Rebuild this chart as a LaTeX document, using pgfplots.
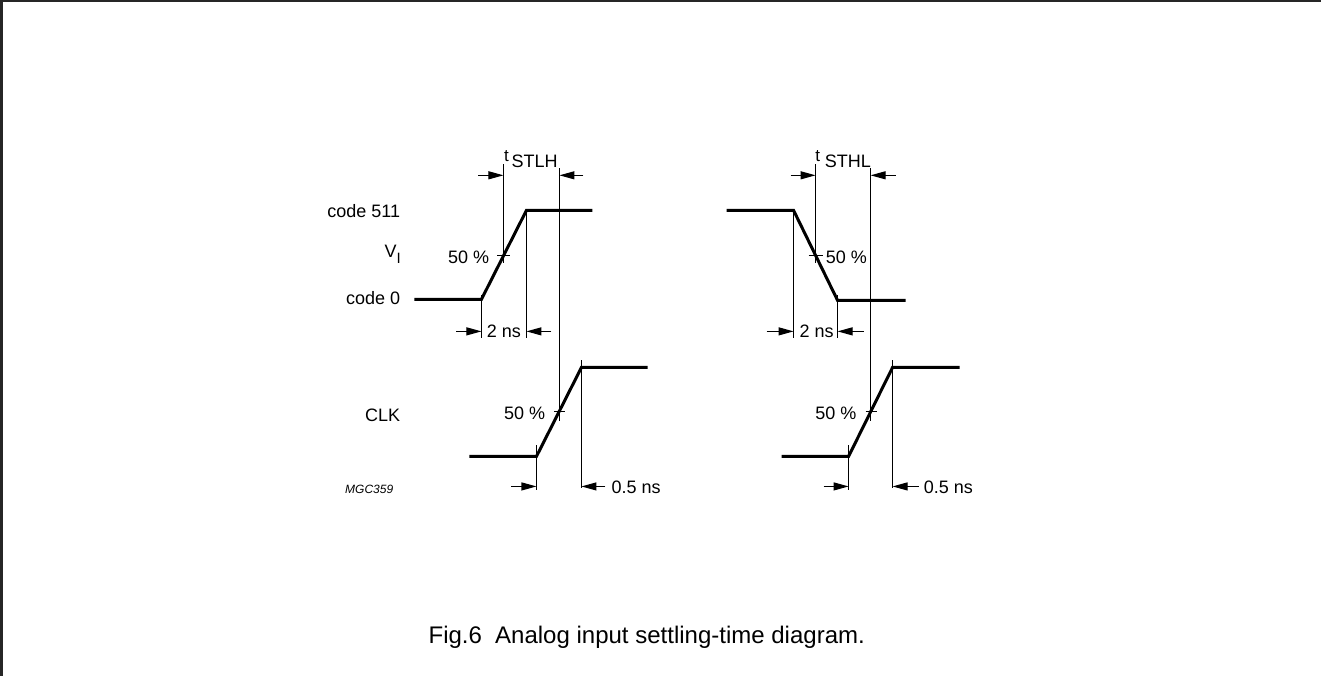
\documentclass[border=0pt]{standalone}
\usepackage{pgfplots}
\pgfplotsset{compat=1.18}
\usepackage{fontspec}
\setmainfont{Liberation Sans}
\usetikzlibrary{arrows.meta}
\tikzset{
 wave/.style={black, line width=3pt, line join=miter},
 thin/.style={black, line width=1.1pt},
 arr/.style={black, line width=1.1pt, -{Triangle[length=15pt,width=8pt]}},
 lab/.style={font=\fontsize{18}{21}\selectfont, inner sep=0pt},
 sml/.style={font=\fontsize{15}{17}\selectfont, inner sep=0pt},
 tsm/.style={font=\fontsize{17}{19}\selectfont, inner sep=0pt},
}
\begin{document}
\begin{tikzpicture}
\begin{axis}[
 scale only axis, width=1322pt, height=677pt,
 xmin=0,xmax=1322,ymin=0,ymax=677, y dir=reverse,
 hide axis, clip=false,
]
% frame
\addplot[color=black!85, line width=2.5pt] coordinates {(3,677)(3,3)(1322,3)};
% left VI
\addplot[wave] coordinates {(416,301)(483,301)(528,212)(594,212)};
% left CLK
\addplot[wave] coordinates {(471,458)(538,458)(583,369)(649,369)};
% right VI
\addplot[wave] coordinates {(728,212)(795,212)(839,302)(907,302)};
% right CLK
\addplot[wave] coordinates {(783,458)(850,458)(894,369)(961,369)};
% thin lines left
\addplot[thin] coordinates {(505,166)(505,265)};
\addplot[thin] coordinates {(499,257)(512,257)};
\addplot[thin] coordinates {(561,170)(561,423)};
\addplot[thin] coordinates {(556,413)(567,413)};
\addplot[thin] coordinates {(528,212)(528,340)};
\addplot[thin] coordinates {(483,297)(483,340)};
\addplot[thin] coordinates {(538,447)(538,492)};
\addplot[thin] coordinates {(583,362)(583,490)};
% thin lines right
\addplot[thin] coordinates {(817,166)(817,265)};
\addplot[thin] coordinates {(810,257)(824,257)};
\addplot[thin] coordinates {(872,170)(872,423)};
\addplot[thin] coordinates {(867,413)(878,413)};
\addplot[thin] coordinates {(795,212)(795,340)};
\addplot[thin] coordinates {(839,297)(839,340)};
\addplot[thin] coordinates {(850,447)(850,492)};
\addplot[thin] coordinates {(894,362)(894,490)};
% arrows left
\addplot[arr] coordinates {(480,177)(505,177)};
\addplot[arr] coordinates {(585,177)(561,177)};
\addplot[arr] coordinates {(458,333)(483,333)};
\addplot[arr] coordinates {(553,333)(528,333)};
\addplot[arr] coordinates {(513,488)(538,488)};
\addplot[arr] coordinates {(607,488)(583,488)};
% arrows right
\addplot[arr] coordinates {(792,177)(817,177)};
\addplot[arr] coordinates {(897,177)(872,177)};
\addplot[arr] coordinates {(768,333)(795,333)};
\addplot[arr] coordinates {(865,333)(839,333)};
\addplot[arr] coordinates {(825,488)(850,488)};
\addplot[arr] coordinates {(920,488)(894,488)};
% labels
\node[lab, anchor=base east] at (axis cs:402,219) {code 511};
\node[lab, anchor=base east] at (axis cs:402,306) {code 0};
\node[lab, anchor=base east] at (axis cs:402,423) {CLK};
\node[lab, anchor=base west] at (axis cs:386,259) {V};
\node[sml, anchor=base west] at (axis cs:398,265) {I};
\node[font=\fontsize{12}{14}\selectfont\itshape, inner sep=0pt, anchor=base east] at (axis cs:395,495) {MGC359};
\node[lab, anchor=base east] at (axis cs:491,265) {50 \%};
\node[lab, anchor=base west] at (axis cs:827,265) {50 \%};
\node[lab, anchor=base east] at (axis cs:547,421) {50 \%};
\node[lab, anchor=base east] at (axis cs:858,421) {50 \%};
\node[lab, anchor=base] at (axis cs:505.5,339) {2 ns};
\node[lab, anchor=base] at (axis cs:818,339) {2 ns};
\node[lab, anchor=base west] at (axis cs:613,495) {0.5 ns};
\node[lab, anchor=base west] at (axis cs:925,495) {0.5 ns};
\node[tsm, anchor=base west] at (axis cs:505.5,163) {t};
\node[lab, anchor=base west] at (axis cs:513,169) {STLH};
\node[tsm, anchor=base west] at (axis cs:816.5,163) {t};
\node[lab, anchor=base west] at (axis cs:826,169) {STHL};
\node[font=\fontsize{24}{28}\selectfont, inner sep=0pt, anchor=base west] at (axis cs:430,645) {Fig.6\hspace{0.55em}Analog input settling-time diagram.};
\end{axis}
\end{tikzpicture}
\end{document}
